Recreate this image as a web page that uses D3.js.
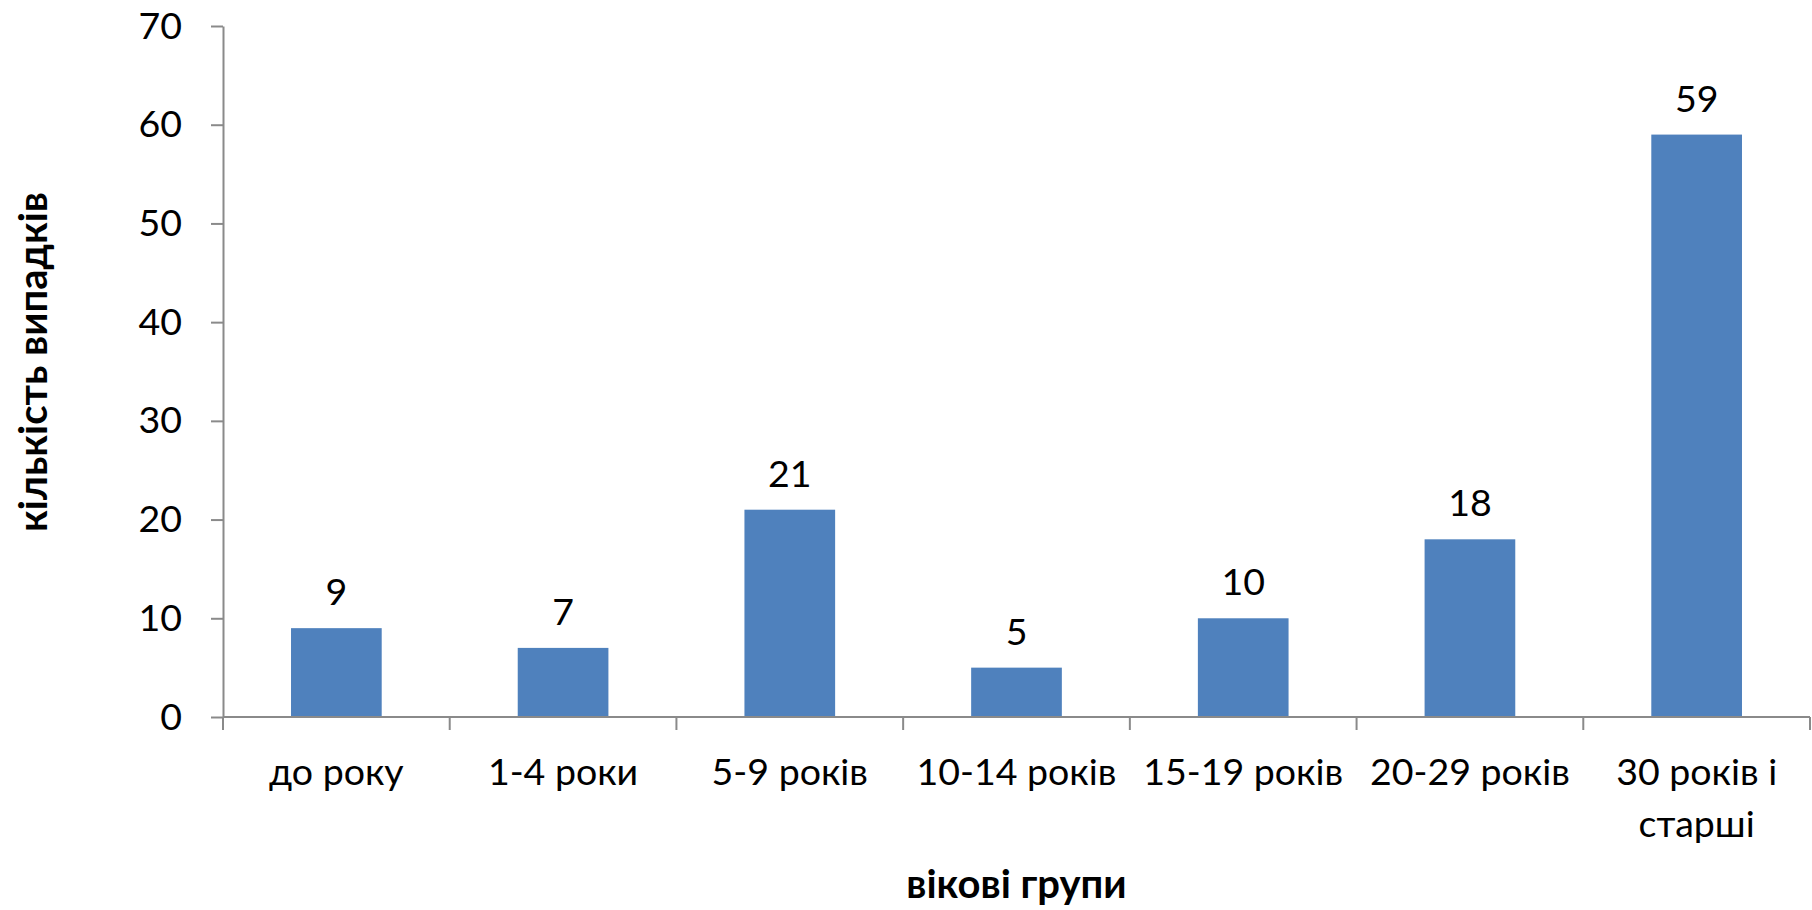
<!DOCTYPE html>
<html>
<head>
<meta charset="utf-8">
<script src="https://cdn.jsdelivr.net/npm/d3@7"></script>
<style>
  html, body { margin: 0; padding: 0; background: #fff; }
  svg { display: block; }
  text { font-family: Lato, "Open Sans", sans-serif; fill: #000; }
</style>
</head>
<body>
<svg id="chart" width="1812" height="910"></svg>
<script>
const categories = ["до року", "1-4 роки", "5-9 років", "10-14 років", "15-19 років", "20-29 років", "30 років і старші"];
const values = [9, 7, 21, 5, 10, 18, 59];
const yTicks = [0, 10, 20, 30, 40, 50, 60, 70];
const yTitle = "кількість випадків";
const xTitle = "вікові групи";

const W = 1812, H = 910;
const margin = { left: 223, right: 2, top: 26, bottom: 193 };
const plotW = W - margin.left - margin.right;
const plotH = H - margin.top - margin.bottom;

const svg = d3.select("#chart");
const g = svg.append("g").attr("transform", `translate(${margin.left},${margin.top})`);

const x = d3.scaleBand().domain(categories).range([0, plotW]).paddingInner(0.6).paddingOuter(0.3);
const xc = d3.scaleBand().domain(categories).range([0, plotW]).padding(0);
const y = d3.scaleLinear().domain([0, 70]).range([plotH, 0]);

const axisColor = "#8a8a8a";
const fs = 37.5;

// Y axis
const yAxis = g.append("g")
  .call(d3.axisLeft(y).tickValues(yTicks).tickSize(12).tickSizeOuter(0).tickPadding(29));
yAxis.select(".domain").attr("stroke", axisColor).attr("stroke-width", 2);
yAxis.selectAll(".tick line").attr("stroke", axisColor).attr("stroke-width", 2);
yAxis.selectAll(".tick text").attr("font-size", fs).attr("font-family", "Lato").attr("fill", "#000");

// Bars
g.selectAll("rect.bar").data(values).join("rect")
  .attr("class", "bar")
  .attr("x", (d, i) => x(categories[i]))
  .attr("width", x.bandwidth())
  .attr("y", d => y(d))
  .attr("height", d => y(0) - y(d))
  .attr("fill", "#4F81BD");

// Data labels
g.selectAll("text.lbl").data(values).join("text")
  .attr("class", "lbl")
  .attr("x", (d, i) => x(categories[i]) + x.bandwidth() / 2)
  .attr("y", d => y(d) - 23)
  .attr("text-anchor", "middle")
  .attr("font-size", fs)
  .text(d => d);

// X axis line and boundary ticks
g.append("line")
  .attr("x1", 0).attr("x2", plotW)
  .attr("y1", y(0)).attr("y2", y(0))
  .attr("stroke", axisColor).attr("stroke-width", 2);
const bounds = categories.map(c => xc(c)).concat([plotW]);
g.selectAll("line.xt").data(bounds).join("line")
  .attr("class", "xt")
  .attr("x1", d => d).attr("x2", d => d)
  .attr("y1", y(0)).attr("y2", y(0) + 13)
  .attr("stroke", axisColor).attr("stroke-width", 2);

// Category labels with wrapping
const catG = g.selectAll("text.cat").data(categories).join("text")
  .attr("class", "cat")
  .attr("text-anchor", "middle")
  .attr("font-size", fs)
  .attr("x", d => xc(d) + xc.bandwidth() / 2)
  .attr("y", y(0) + 68);
catG.each(function(d) {
  const t = d3.select(this);
  const words = d.split(" ");
  const cx = +t.attr("x");
  let line = [];
  let lines = [];
  const probe = t.append("tspan");
  words.forEach(w => {
    const test = line.concat([w]).join(" ");
    probe.text(test);
    if (probe.node().getComputedTextLength() > xc.bandwidth() - 8 && line.length) {
      lines.push(line.join(" "));
      line = [w];
    } else {
      line.push(w);
    }
  });
  lines.push(line.join(" "));
  probe.remove();
  lines.forEach((l, i) => {
    t.append("tspan").attr("x", cx).attr("dy", i === 0 ? 0 : 52).text(l);
  });
});

// Axis titles
svg.append("text")
  .attr("x", margin.left + plotW / 2)
  .attr("y", 898)
  .attr("text-anchor", "middle")
  .attr("font-size", 40)
  .attr("font-weight", "bold")
  .text(xTitle);

svg.append("text")
  .attr("transform", `translate(47,362) rotate(-90)`)
  .attr("text-anchor", "middle")
  .attr("font-size", 40)
  .attr("font-weight", "bold")
  .text(yTitle);
</script>
</body>
</html>
